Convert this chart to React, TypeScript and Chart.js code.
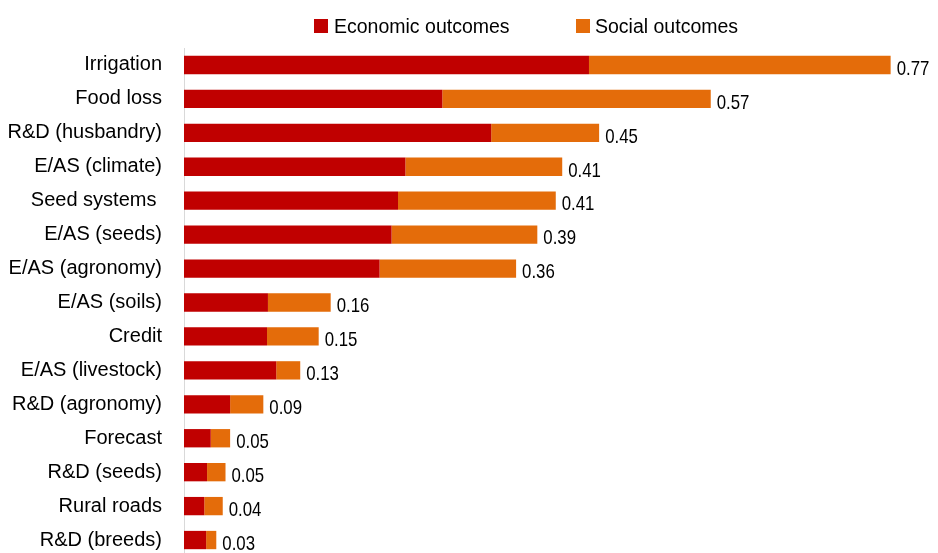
import React, { useEffect, useRef } from "react";
import { Chart, registerables } from "chart.js";

Chart.register(...registerables);

const categories = [
  "Irrigation",
  "Food loss",
  "R&D (husbandry)",
  "E/AS (climate)",
  "Seed systems ",
  "E/AS (seeds)",
  "E/AS (agronomy)",
  "E/AS (soils)",
  "Credit",
  "E/AS (livestock)",
  "R&D (agronomy)",
  "Forecast",
  "R&D (seeds)",
  "Rural roads",
  "R&D (breeds)",
];

const economic = [0.439, 0.28, 0.333, 0.24, 0.232, 0.225, 0.212, 0.091, 0.09, 0.1, 0.05, 0.029, 0.025, 0.022, 0.024];
const social = [0.327, 0.291, 0.117, 0.17, 0.171, 0.158, 0.148, 0.068, 0.056, 0.026, 0.036, 0.021, 0.02, 0.02, 0.011];
const totalLabels = ["0.77", "0.57", "0.45", "0.41", "0.41", "0.39", "0.36", "0.16", "0.15", "0.13", "0.09", "0.05", "0.05", "0.04", "0.03"];

const seriesNames = ["Economic outcomes", "Social outcomes"];
const seriesColors = ["#C00000", "#E46C0A"];

const VALUE_FONT = "21px 'Liberation Sans', Arial, sans-serif";

const valueLabelPlugin = {
  id: "valueLabels",
  afterDatasetsDraw(chart: any) {
    const ctx = chart.ctx;
    const meta = chart.getDatasetMeta(chart.data.datasets.length - 1);
    ctx.save();
    ctx.font = VALUE_FONT;
    ctx.fillStyle = "#000000";
    ctx.textAlign = "left";
    ctx.textBaseline = "middle";
    meta.data.forEach((bar: any, i: number) => {
      ctx.save();
      ctx.translate(bar.x + 6, bar.y + 4);
      ctx.scale(0.8, 1);
      ctx.fillText(totalLabels[i], 0, 0);
      ctx.restore();
    });
    ctx.restore();
  },
};

const customLegendPlugin = {
  id: "customLegend",
  afterDraw(chart: any) {
    const ctx = chart.ctx;
    const items = [
      { box: 314, text: 334 },
      { box: 576, text: 595 },
    ];
    ctx.save();
    ctx.font = "19.5px 'Liberation Sans', Arial, sans-serif";
    ctx.textAlign = "left";
    ctx.textBaseline = "middle";
    items.forEach((it, i) => {
      ctx.fillStyle = seriesColors[i];
      ctx.fillRect(it.box, 19, 14, 14);
      ctx.fillStyle = "#000000";
      ctx.fillText(seriesNames[i], it.text, 27.5);
    });
    ctx.restore();
  },
};

export default function App() {
  const canvasRef = useRef<HTMLCanvasElement | null>(null);

  useEffect(() => {
    if (!canvasRef.current) return;
    const chart = new Chart(canvasRef.current, {
      type: "bar",
      data: {
        labels: categories,
        datasets: [
          {
            label: seriesNames[0],
            data: economic,
            backgroundColor: seriesColors[0],
            borderWidth: 0,
            barPercentage: 0.54,
            categoryPercentage: 1,
          },
          {
            label: seriesNames[1],
            data: social,
            backgroundColor: seriesColors[1],
            borderWidth: 0,
            barPercentage: 0.54,
            categoryPercentage: 1,
          },
        ],
      },
      options: {
        indexAxis: "y",
        responsive: false,
        maintainAspectRatio: false,
        animation: false,
        layout: { autoPadding: false, padding: { top: 48, bottom: 3, left: 0, right: 16 } },
        plugins: {
          legend: { display: false },
          tooltip: { enabled: false },
        },
        scales: {
          x: {
            stacked: true,
            min: 0,
            max: 0.8,
            display: false,
            afterFit: (scale: any) => {
              scale.height = 0;
            },
          },
          y: {
            stacked: true,
            afterFit: (scale: any) => {
              scale.width = 184;
              scale.paddingTop = 0;
              scale.paddingBottom = 0;
            },
            grid: { display: false, drawTicks: false },
            border: { display: true, color: "#D9D9D9", width: 1 },
            ticks: {
              padding: 22,
              color: "#000000",
              font: { family: "'Liberation Sans', Arial, sans-serif", size: 20 },
            },
          },
        },
      },
      plugins: [valueLabelPlugin, customLegendPlugin],
    });
    return () => chart.destroy();
  }, []);

  return (
    <div
      style={{
        position: "fixed",
        left: 0,
        top: 0,
        width: 938,
        height: 553,
        overflow: "hidden",
        background: "#ffffff",
      }}
    >
      <canvas ref={canvasRef} width={938} height={560} style={{ display: "block" }} />
    </div>
  );
}
